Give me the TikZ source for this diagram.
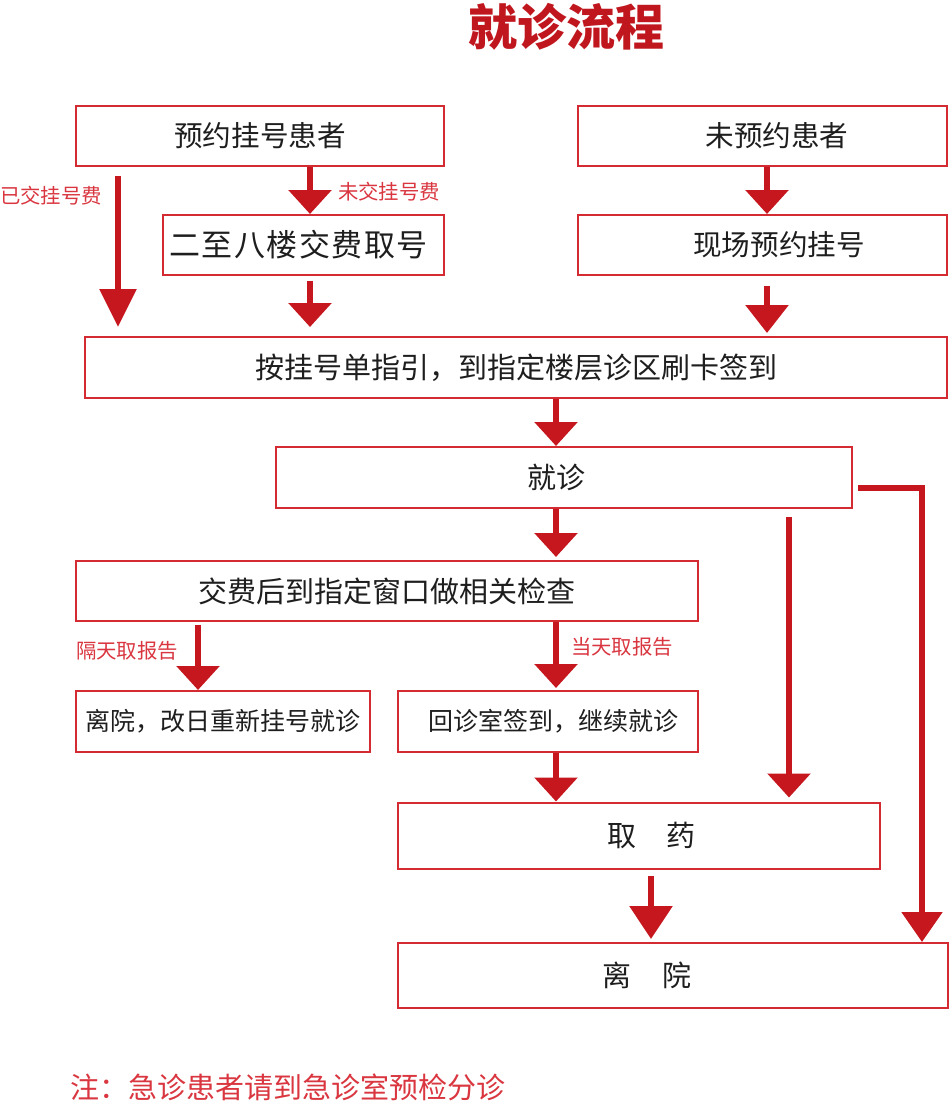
\documentclass[tikz,border=0pt]{standalone}
\usepackage{fontspec}
\setmainfont{Noto Sans CJK SC}
\usetikzlibrary{arrows.meta}
\definecolor{boxred}{HTML}{D42A32}
\definecolor{arrred}{HTML}{C6161E}
\definecolor{lblred}{HTML}{D93640}
\definecolor{titred}{HTML}{C0161E}
\definecolor{txt}{HTML}{1E1E1E}
\newcommand{\gp}{\hspace{1.5pt}}
\begin{document}
\begin{tikzpicture}[x=1pt,y=-1pt,
  box/.style={draw=boxred, line width=2pt, fill=white, inner sep=0pt, text=txt,
    font=\fontsize{28.6}{32}\selectfont},
  arr/.style={draw=arrred, line width=6pt, -{Triangle[width=42pt,length=24pt]}},
  lbl/.style={text=lblred, inner sep=0pt, font=\fontsize{20.4}{24}\selectfont}]
\useasboundingbox (0,0) rectangle (949,1103);

\node[text=titred, inner sep=0pt, font=\fontsize{49}{52}\selectfont\bfseries] (title) at (566,27) {就诊流程};

\node[box, minimum width=368pt, minimum height=60pt] (A) at (260,136) {预约挂号患者};
\node[box, minimum width=369pt, minimum height=60pt] (B) at (762.5,136) {\hspace*{29pt}未预约患者};
\node[box, minimum width=281pt, minimum height=60pt, font=\fontsize{31}{34}\selectfont] (C) at (303.5,245) {二\gp 至\gp 八\gp 楼\gp 交\gp 费\gp 取\gp 号\hspace*{10pt}};
\node[box, minimum width=369pt, minimum height=60pt] (D) at (762.5,245) {\hspace*{33pt}现场预约挂号};
\node[box, minimum width=862pt, minimum height=61pt, font=\fontsize{29}{32}\selectfont] (E) at (516,367.5) {按挂号单指引，到指定楼层诊区刷卡签到};
\node[box, minimum width=576pt, minimum height=61pt, font=\fontsize{29}{32}\selectfont] (F) at (564,477.5) {就诊\hspace*{16pt}};
\node[box, minimum width=622pt, minimum height=60pt, font=\fontsize{29}{32}\selectfont] (G) at (387,591) {交费后到指定窗口做相关检查};
\node[box, minimum width=294pt, minimum height=61pt, font=\fontsize{25}{28}\selectfont] (H1) at (223,721.5) {离院，改日重新挂号就诊};
\node[box, minimum width=300pt, minimum height=61pt, font=\fontsize{25}{28}\selectfont] (H2) at (548,721.5) {\hspace*{11pt}回诊室签到，继续就诊};
\node[box, minimum width=482pt, minimum height=66pt, font=\fontsize{29}{32}\selectfont] (I) at (638.5,835.5) {\hspace*{26pt}取\hspace*{31pt}药};
\node[box, minimum width=550pt, minimum height=65pt, font=\fontsize{29}{32}\selectfont] (J) at (673,975.5) {离\hspace*{31pt}院\hspace*{52pt}};

\node[lbl] (l1) at (389,192) {未交挂号费};
\node[lbl] (l2) at (51,196) {已交挂号费};
\node[lbl] (l3) at (127,651) {隔天取报告};
\node[lbl] (l4) at (622,647) {当天取报告};

\node[anchor=west, inner sep=0pt, text=lblred, font=\fontsize{29}{32}\selectfont] (note) at (70,1087) {注：急诊患者请到急诊室预检分诊};

\coordinate (xL) at (118,0);
\coordinate (xC) at (310,0);
\coordinate (xD) at (767,0);
\coordinate (xM) at (556,0);
\coordinate (xH1) at (198,0);
\coordinate (xR) at (789,0);
\coordinate (xI) at (651,0);
\coordinate (xF) at (922,0);
\coordinate (fR) at (858,488);

\draw[arr] (A.south -| xC) -- (C.north -| xC);
\draw[arr, shorten <=9pt, shorten >=9pt, -{Triangle[width=36pt,length=38pt]}] (A.south -| xL) -- (E.north -| xL);
\draw[arr, shorten <=5pt, shorten >=9pt] (C.south -| xC) -- (E.north -| xC);
\draw[arr] (B.south -| xD) -- (D.north -| xD);
\draw[arr, shorten <=10pt, shorten >=3pt, -{Triangle[width=42pt,length=28pt]}] (D.south -| xD) -- (E.north -| xD);
\draw[arr] (E.south -| xM) -- (F.north -| xM);
\draw[arr, shorten >=3pt] (F.south -| xM) -- (G.north -| xM);
\draw[arr, shorten <=3pt] (G.south -| xH1) -- (H1.north -| xH1);
\draw[arr, shorten >=2pt] (G.south -| xM) -- (H2.north -| xM);
\draw[arr] (H2.south -| xM) -- (I.north -| xM);
\draw[arr, shorten <=8pt, shorten >=4pt] (F.south -| xR) -- (I.north -| xR);
\draw[arr, shorten <=6pt, shorten >=3pt, -{Triangle[width=42pt,length=33pt]}] (I.south -| xI) -- (J.north -| xI);
\draw[arr, line width=5.5pt, -{Triangle[width=40pt,length=30pt]}] (fR) -- (fR -| xF) -- (J.north -| xF);
\end{tikzpicture}
\end{document}
